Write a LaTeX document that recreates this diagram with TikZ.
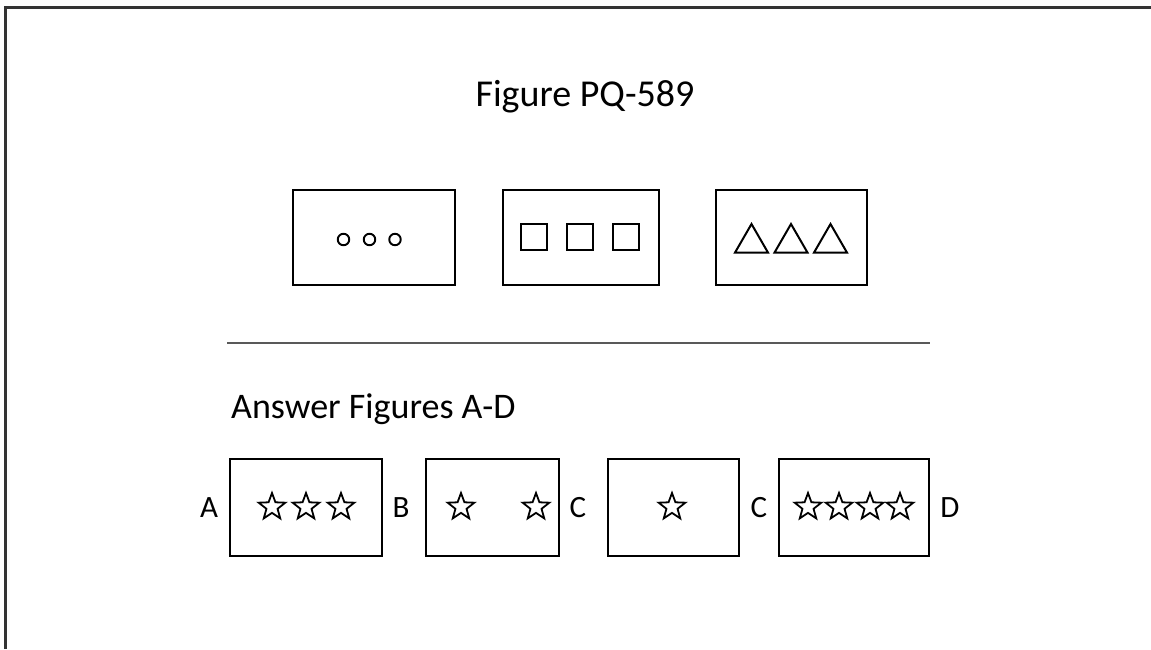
\documentclass[tikz,border=0pt]{standalone}
\usepackage{fontspec}
\setmainfont{Carlito}
\usetikzlibrary{shapes.geometric}

\begin{document}
\begin{tikzpicture}[x=1pt, y=-1pt,
	box/.style={draw, line width=2pt, minimum height=95pt, inner sep=0pt},
	ring/.style={circle, draw, line width=1.9pt, minimum size=11.5pt, inner sep=0pt},
	sq/.style={rectangle, draw, line width=2pt, minimum size=26pt, inner sep=0pt},
	tri/.style={regular polygon, regular polygon sides=3, draw, line width=2pt, minimum size=38pt, inner sep=0pt},
	starmark/.style={star, star points=5, star point ratio=2.4, draw, line width=1.8pt, minimum size=28pt, inner sep=0pt},
	lbl/.style={font=\fontsize{31}{31}\selectfont, inner sep=0pt}]

	\useasboundingbox (0, 0) rectangle (1151, 649);

	% frame, top and left only
	\draw[line width=3pt, black!80] (5, 649) -- (5, 7) -- (1151, 7);

	\node (title) [anchor=base, font=\fontsize{38}{38}\selectfont, inner sep=0pt] at (585, 106) {Figure PQ-589};

	% question figures
	\node (q1) [box, minimum width=162pt] at (374, 237.5) {};
	\node (q2) [box, minimum width=156pt] at (581, 237.5) {};
	\node (q3) [box, minimum width=151pt] at (791.5, 237.5) {};

	\node (c1) [ring] at (343.5, 239.5) {};
	\node (c2) [ring] at (369.5, 239.5) {};
	\node (c3) [ring] at (395, 239.5) {};

	\node (s1) [sq] at (534, 237) {};
	\node (s2) [sq] at (579.5, 237) {};
	\node (s3) [sq] at (625.5, 237) {};

	\node (t1) [tri] at (751.5, 243) {};
	\node (t2) [tri] at (791, 243) {};
	\node (t3) [tri] at (830.5, 243) {};

	% rule
	\coordinate (r1) at (227, 343);
	\coordinate (r2) at (930, 343);
	\draw[line width=2.2pt, black!65] (r1) -- (r2);

	\node (answers) [anchor=base west, font=\fontsize{36}{36}\selectfont, inner sep=0pt] at (231, 418) {Answer Figures A-D};

	% answer figures
	\node (a1) [box, minimum width=152pt, minimum height=97pt] at (306, 507.5) {};
	\node (a2) [box, minimum width=133pt, minimum height=97pt] at (492.5, 507.5) {};
	\node (a3) [box, minimum width=131pt, minimum height=97pt] at (673.5, 507.5) {};
	\node (a4) [box, minimum width=150pt, minimum height=97pt] at (854, 507.5) {};

	\node (la) [lbl] at (209, 508) {A};
	\node (lb) [lbl] at (401, 508) {B};
	\node (lc) [lbl] at (578, 508) {C};
	\node (lc2) [lbl] at (759, 508) {C};
	\node (ld) [lbl] at (950, 508) {D};

	\node (a1s1) [starmark] at (272, 507) {};
	\node (a1s2) [starmark] at (306, 507) {};
	\node (a1s3) [starmark] at (341, 507) {};

	\node (a2s1) [starmark] at (461, 507) {};
	\node (a2s2) [starmark] at (536, 507) {};

	\node (a3s1) [starmark] at (672, 507) {};

	\node (a4s1) [starmark] at (808, 507) {};
	\node (a4s2) [starmark] at (839, 507) {};
	\node (a4s3) [starmark] at (870, 507) {};
	\node (a4s4) [starmark] at (900, 507) {};

\end{tikzpicture}
\end{document}
